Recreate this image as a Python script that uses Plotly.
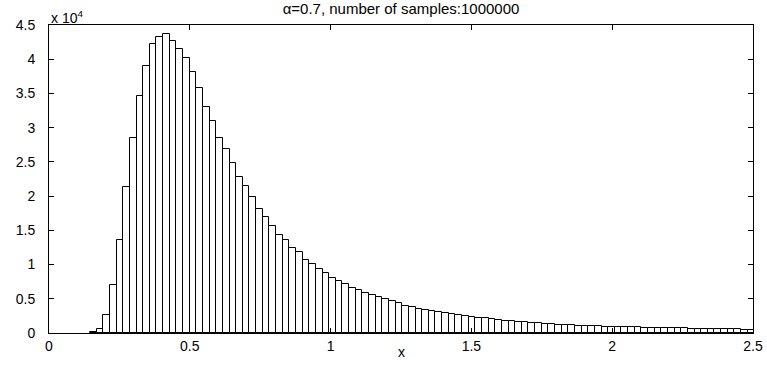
import plotly.graph_objects as go

# Histogram counts (100 bins, first bin starts near x=0.1456)
counts = [
    100, 580, 2680, 7050, 13620, 21260, 28460, 34640, 38950, 42180,
    43200, 43640, 42600, 41450, 40230, 38120, 35830, 33080, 31040, 28510,
    26850, 24860, 22770, 21500, 19800, 18150, 16980, 15660, 14300, 13540,
    12470, 11820, 10650, 10070, 9390, 8710, 8080, 7590, 7100, 6570,
    6230, 5790, 5550, 5210, 4910, 4620, 4380, 3990, 3800, 3500,
    3360, 3210, 3110, 2870, 2770, 2630, 2430, 2290, 2190, 2140,
    1990, 1900, 1750, 1700, 1650, 1560, 1510, 1460, 1360, 1310,
    1170, 1170, 1120, 1070, 1020, 1010, 980, 950, 920, 890,
    860, 830, 810, 790, 760, 740, 720, 700, 680, 660,
    640, 620, 600, 590, 570, 550, 540, 520, 510, 490,
]
bin_start = 0.1456
bin_width = 0.02359
centers = [bin_start + (i + 0.5) * bin_width for i in range(len(counts))]

x_ticks = [0, 0.5, 1, 1.5, 2, 2.5]
x_tick_text = ["0", "0.5", "1", "1.5", "2", "2.5"]
y_ticks = [0, 5000, 10000, 15000, 20000, 25000, 30000, 35000, 40000, 45000]
y_tick_text = ["0", "0.5", "1", "1.5", "2", "2.5", "3", "3.5", "4", "4.5"]

title_text = "α=0.7, number of samples:1000000"
x_label = "x"
y_exponent = "x 10<sup>4</sup>"

FONT = "Liberation Sans, Arial, Helvetica, sans-serif"

fig = go.Figure()
fig.add_trace(go.Bar(
    x=centers, y=counts, width=bin_width,
    marker=dict(color="white", line=dict(color="black", width=1)),
    showlegend=False,
))

fig.update_layout(
    width=767, height=367,
    margin=dict(l=49, r=14, t=25, b=34, autoexpand=False),
    paper_bgcolor="white", plot_bgcolor="white",
    font=dict(family=FONT, size=13, color="black"),
    bargap=0,
    title=dict(text=title_text, x=0.5, xref="paper", xanchor="center",
               y=1, yref="container", yanchor="top", pad=dict(t=3),
               font=dict(family=FONT, size=15, color="black")),
    xaxis=dict(range=[0, 2.5], tickvals=x_ticks, ticktext=x_tick_text,
               ticks="inside", ticklen=5, tickcolor="black",
               showline=True, linecolor="black", linewidth=1, mirror="ticks",
               showgrid=False, zeroline=False,
               tickfont=dict(size=14), automargin=False),
    yaxis=dict(range=[0, 45000], tickvals=y_ticks, ticktext=y_tick_text,
               ticks="inside", ticklen=5, tickcolor="black",
               showline=True, linecolor="black", linewidth=1, mirror="ticks",
               showgrid=False, zeroline=False,
               tickfont=dict(size=14), ticklabelstandoff=10, automargin=False),
    annotations=[
        dict(text=y_exponent, xref="paper", yref="paper",
             x=0, y=1, xanchor="left", yanchor="bottom",
             showarrow=False, font=dict(family=FONT, size=14), yshift=-3),
        dict(text=x_label, xref="paper", yref="paper",
             x=0.5, y=0, xanchor="center", yanchor="top",
             showarrow=False, font=dict(family=FONT, size=14), yshift=-9),
    ],
)

fig.write_html("out.html")
